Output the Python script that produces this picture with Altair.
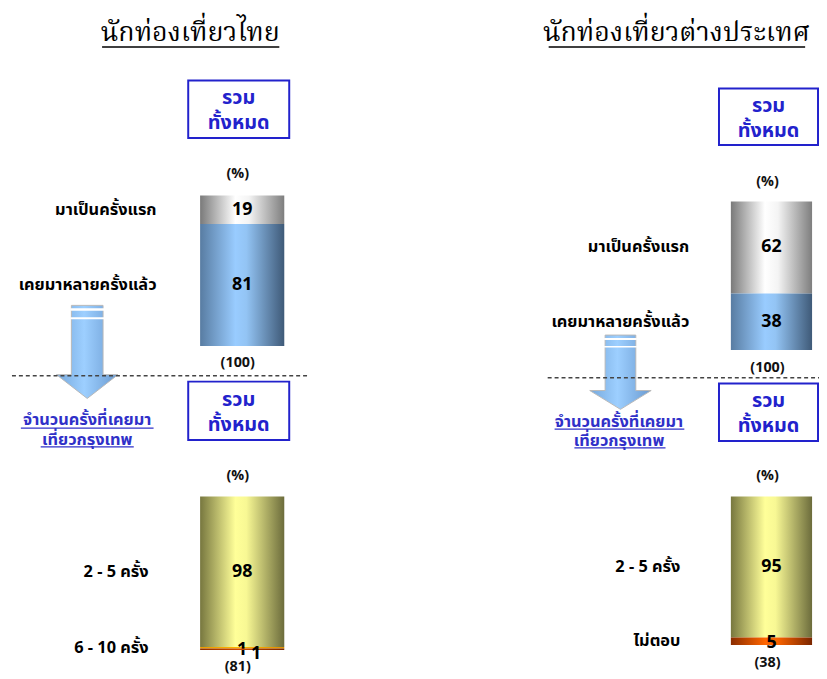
import altair as alt
import pandas as pd

# ---------------- data ----------------
panel_titles = ["นักท่องเที่ยวไทย", "นักท่องเที่ยวต่างประเทศ"]

thai_visit_cats = ["มาเป็นครั้งแรก", "เคยมาหลายครั้งแล้ว"]
thai_visit_vals = [19, 81]

thai_times_cats = ["2 - 5 ครั้ง", "6 - 10 ครั้ง", "อื่น ๆ"]
thai_times_vals = [98, 1, 1]
thai_times_show = [True, True, False]

foreign_visit_cats = ["มาเป็นครั้งแรก", "เคยมาหลายครั้งแล้ว"]
foreign_visit_vals = [62, 38]

foreign_times_cats = ["2 - 5 ครั้ง", "ไม่ตอบ"]
foreign_times_vals = [95, 5]

base_labels = ["(100)", "(81)", "(100)", "(38)"]
box_lines = ["รวม", "ทั้งหมด"]
link_lines = ["จำนวนครั้งที่เคยมา", "เที่ยวกรุงเทพ"]
pct_label = "(%)"

# ---------------- styles ----------------
FONT = "Tahoma, 'Noto Sans Thai', 'DejaVu Sans', sans-serif"
TITLE_FONT = "'Noto Serif Thai', 'Angsana New', 'DejaVu Serif', serif"
BLUE = "#2222cc"
LINK = "#3030c8"
W, H = 819, 671


def X(x):
    return x - 8


def Y(y):
    return y - 8


def hgrad(stops):
    return alt.LinearGradient(
        gradient="linear", x1=0, y1=0, x2=1, y2=0,
        stops=[alt.GradientStop(offset=o, color=c) for o, c in stops],
    )


GRAD = {
    "grey": hgrad([(0, "#7a7a7a"), (0.42, "#ffffff"), (0.58, "#f4f4f4"), (1, "#7e7e7e")]),
    "blue": hgrad([(0, "#587ca2"), (0.42, "#99ccff"), (0.55, "#93c4f4"), (1, "#3f5a78")]),
    "yellow": hgrad([(0, "#77773f"), (0.42, "#ffff99"), (0.55, "#f8f894"), (1, "#6c6c3c")]),
    "orange": hgrad([(0, "#e89a00"), (0.45, "#ffb400"), (1, "#e09000")]),
    "rust": hgrad([(0, "#8a2e00"), (0.45, "#d04a00"), (1, "#7a2800")]),
    "flame": hgrad([(0, "#8a2c00"), (0.42, "#ff6600"), (0.58, "#f86200"), (1, "#7a2600")]),
}

layers = []
dummy = pd.DataFrame({"d": [0]})


def text(x, y, s, size=14.5, color="#111111", weight="bold", align="center", font=FONT, baseline="middle", dx=0, dy=0):
    return alt.Chart(pd.DataFrame({"t": [s]})).mark_text(
        font=font, fontSize=size, fontWeight=weight, color=color,
        align=align, baseline=baseline, dx=dx, dy=dy,
    ).encode(x=alt.value(X(x)), y=alt.value(Y(y)), text="t:N")


def rule(x1, x2, y, color="black", width=1.0, dash=None):
    kw = dict(color=color, strokeWidth=width)
    if dash:
        kw["strokeDash"] = dash
    return alt.Chart(dummy).mark_rule(**kw).encode(
        x=alt.value(X(x1)), x2=alt.value(X(x2)), y=alt.value(Y(y)), y2=alt.value(Y(y)))


def rect(x1, x2, y1, y2, **kw):
    return alt.Chart(dummy).mark_rect(**kw).encode(
        x=alt.value(X(x1)), x2=alt.value(X(x2)), y=alt.value(Y(y1)), y2=alt.value(Y(y2)))


def stacked_bar(cats, vals, colors, x0, x1, top, bottom, label_x, show=None, value_offsets=None):
    n = len(cats)
    show = show or [True] * n
    df = pd.DataFrame({"cat": cats, "value": vals, "order": list(range(n)),
                       "show": show})
    yscale = alt.Scale(domain=[0, 100], range=[Y(bottom), Y(top)])
    base = alt.Chart(df).transform_stack(
        stack="value", groupby=[], as_=["v0", "v1"],
        sort=[alt.SortField("order", order="descending")],
    ).transform_calculate(mid="(datum.v0 + datum.v1) / 2")
    out = []
    for i in range(n):
        seg = base.transform_filter(f"datum.order == {i}")
        out.append(seg.mark_rect(fill=colors[i]).encode(
            x=alt.value(X(x0)), x2=alt.value(X(x1)),
            y=alt.Y("v0:Q", scale=yscale, axis=None), y2="v1:Q"))
        dx, dy = (value_offsets[i] if value_offsets else (0, 0))
        out.append(seg.mark_text(font=FONT, fontSize=18, fontWeight="bold", color="black",
                                 dx=dx, dy=dy).encode(
            x=alt.value(X((x0 + x1) / 2)),
            y=alt.Y("mid:Q", scale=yscale, axis=None),
            text="value:Q"))
        if show[i]:
            out.append(seg.mark_text(font=FONT, fontSize=16.5, fontWeight="bold", color="black",
                                     align="right").encode(
                x=alt.value(X(label_x)),
                y=alt.Y("mid:Q", scale=yscale, axis=None),
                text="cat:N"))
    return out


def arrow(cx, top, head_top, tip, shaft_hw, head_hw, stripes):
    S = max(tip - top, 2 * head_hw)
    cy = (top + tip) / 2
    u = S / 2.0

    def p(x, y):
        return f"{x / u:.4f},{(y - cy) / u:.4f}"
    path = ("M" + p(-shaft_hw, top) + "L" + p(shaft_hw, top) + "L" + p(shaft_hw, head_top)
            + "L" + p(head_hw, head_top) + "L" + p(0, tip) + "L" + p(-head_hw, head_top)
            + "L" + p(-shaft_hw, head_top) + "Z")
    g = hgrad([(0, "#76a8dc"), (0.45, "#9dcfff"), (1, "#6a9ad0")])
    out = [alt.Chart(dummy).mark_point(shape=path, size=S * S, filled=True, fill=g,
                                        stroke="#b8b8b8", strokeWidth=1, opacity=1).encode(
        x=alt.value(X(cx)), y=alt.value(Y(cy)))]
    for (a, b) in stripes:
        out.append(rect(cx - shaft_hw - 1, cx + shaft_hw + 1, a, b, fill="white"))
    return out


def box(x1, x2, y1, y2, ty1, ty2):
    cx = (x1 + x2) / 2
    return [rect(x1, x2, y1, y2, fill="white", stroke=BLUE, strokeWidth=2),
            text(cx, ty1, box_lines[0], size=20, color=BLUE),
            text(cx, ty2, box_lines[1], size=20, color=BLUE)]


def link(cx, y1, y2, u1, u2):
    return [text(cx, y1, link_lines[0], size=16.5, color=LINK),
            text(cx, y2, link_lines[1], size=16.5, color=LINK),
            rule(u1[0], u1[1], u1[2], color=LINK, width=1.3),
            rule(u2[0], u2[1], u2[2], color=LINK, width=1.3)]


# ---------------- left panel (Thai) ----------------
layers += [text(192, 30, panel_titles[0], size=27, weight="normal", font=TITLE_FONT, color="black"),
           rule(103, 282, 44, width=1.5)]
layers += box(190, 292, 78, 136, 96, 121)
layers += [text(240, 172, pct_label)]
layers += stacked_bar(thai_visit_cats, thai_visit_vals, [GRAD["grey"], GRAD["blue"]],
                      202, 287, 194, 346, 158)
layers += [text(240, 363, base_labels[0])]
layers += arrow(88, 305, 375, 399, 16, 31, [(308, 310.5), (317, 319)])
layers += [rule(12, 312, 376, color="#444444", width=1.5, dash=[4, 3])]
layers += box(190, 292, 382, 441, 401, 426)
layers += link(88, 421, 441, (21, 155, 429), (41, 135, 448))
layers += [text(240, 477, pct_label)]
layers += stacked_bar(thai_times_cats, thai_times_vals,
                      [GRAD["yellow"], GRAD["orange"], GRAD["rust"]],
                      202, 287, 498, 653, 150, show=thai_times_show,
                      value_offsets=[(0, 0), (0, 2), (14, 5)])
layers += [text(240, 670, base_labels[1])]

# ---------------- right panel (foreign) ----------------
layers += [text(683, 30, panel_titles[1], size=27, weight="normal", font=TITLE_FONT, color="black"),
           rule(554, 813, 44, width=1.5)]
layers += box(726, 826, 86, 143, 104, 129)
layers += [text(775, 180, pct_label)]
layers += stacked_bar(foreign_visit_cats, foreign_visit_vals, [GRAD["grey"], GRAD["blue"]],
                      738, 820, 200, 350, 696)
layers += [text(775, 368, base_labels[2])]
layers += arrow(626.5, 335, 391, 410, 15.5, 31, [(338, 340), (346, 347.5)])
layers += [rule(553, 827, 378, color="#444444", width=1.5, dash=[4, 3])]
layers += box(726, 826, 384, 442, 402, 427)
layers += link(625, 423, 442, (560, 691, 430), (580, 672, 449))
layers += [text(775, 477, pct_label)]
layers += stacked_bar(foreign_times_cats, foreign_times_vals,
                      [GRAD["yellow"], GRAD["flame"]],
                      738, 820, 498, 648, 687, value_offsets=[(0, 0), (0, 2)])
layers += [text(775, 666, base_labels[3])]

chart = alt.layer(*layers).resolve_scale(y="independent", x="independent").properties(
    width=W, height=H, padding=0,
    autosize=alt.AutoSizeParams(type="none"),
).configure_view(stroke=None)

chart.save("out.html", embed_options={"renderer": "svg", "actions": False})
